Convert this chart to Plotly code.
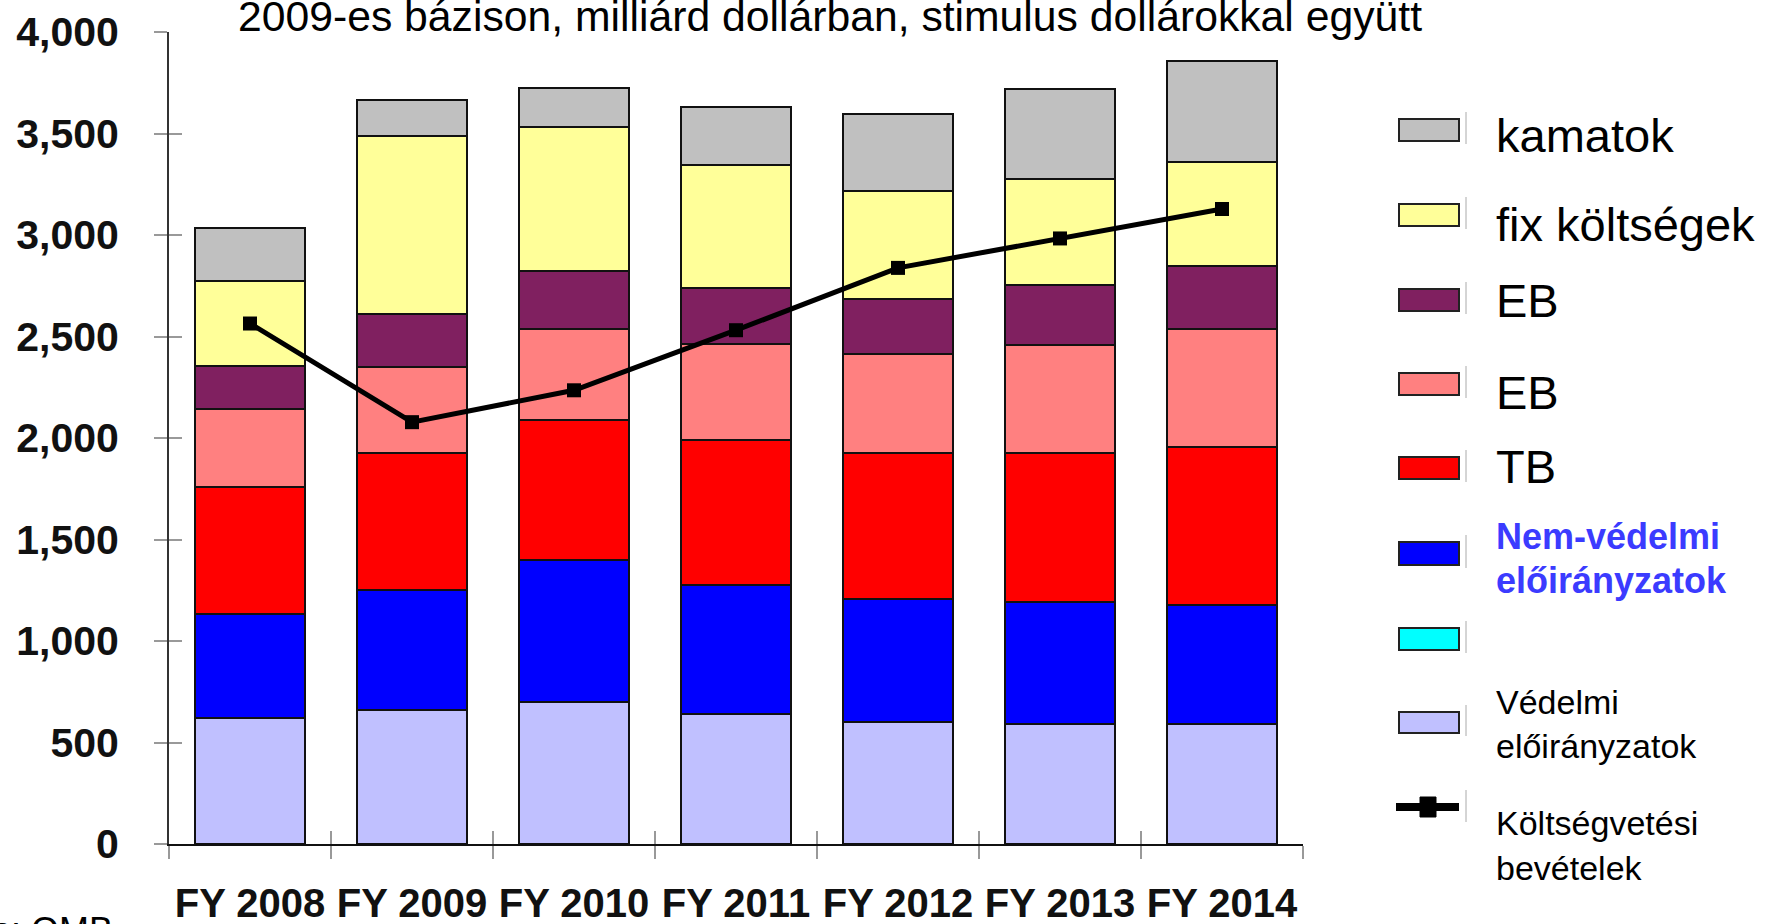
import plotly.graph_objects as go

years = ["FY 2008", "FY 2009", "FY 2010", "FY 2011", "FY 2012", "FY 2013", "FY 2014"]

# stacked components (billion $), bottom to top
vedelmi = [620, 659, 698, 642, 603, 592, 592]          # Védelmi előirányzatok
cyan_series = [None] * 7                               # empty series (cyan)
nem_vedelmi = [514, 592, 699, 632, 604, 598, 587]     # Nem-védelmi előirányzatok
tb = [626, 676, 692, 715, 720, 737, 776]               # TB
eb_pink = [385, 425, 447, 475, 486, 531, 581]          # EB (pink)
eb_purple = [212, 257, 285, 273, 274, 296, 313]        # EB (purple)
fix = [414, 877, 710, 609, 531, 520, 509]              # fix költségek
kamatok = [262, 179, 195, 285, 380, 447, 497]          # kamatok
bevetelek = [2564, 2078, 2235, 2531, 2838, 2983, 3128] # Költségvetési bevételek

y_ticks = [0, 500, 1000, 1500, 2000, 2500, 3000, 3500, 4000]

series = [
    ("Védelmi előirányzatok", vedelmi, "#C0C0FF"),
    ("", cyan_series, "#00FFFF"),
    ("Nem-védelmi előirányzatok", nem_vedelmi, "#0000FF"),
    ("TB", tb, "#FF0000"),
    ("EB", eb_pink, "#FF8080"),
    ("EB ", eb_purple, "#802060"),
    ("fix költségek", fix, "#FFFF99"),
    ("kamatok", kamatok, "#C0C0C0"),
]

FONT = "Liberation Sans, Arial, sans-serif"
W, H = 1775, 924
L, R, T, B = 169, 1303, 32, 844

def px(xp):
    return (xp - L) / (R - L)

def py(yp):
    return (B - yp) / (B - T)

fig = go.Figure()
for name, vals, col in series:
    fig.add_trace(go.Bar(
        x=years, y=vals, name=name,
        marker=dict(color=col, line=dict(color="#111111", width=2)),
        showlegend=False,
    ))

fig.add_trace(go.Scatter(
    x=years, y=bevetelek, mode="lines+markers", name="Költségvetési bevételek",
    line=dict(color="black", width=5),
    marker=dict(symbol="square", size=14, color="black"),
    showlegend=False,
))

fig.update_layout(
    width=W, height=H,
    margin=dict(l=L, r=W - R, t=T, b=H - B, autoexpand=False),
    barmode="stack", bargap=0.32,
    plot_bgcolor="white", paper_bgcolor="white",
    font=dict(family=FONT, color="black"),
    xaxis=dict(
        type="category", range=[-0.5, 6.5],
        showline=True, linecolor="#111111", linewidth=2,
        ticks="outside", tickson="boundaries", ticklen=13, tickcolor="#999999", tickwidth=2,
        tickangle=0, ticklabelstandoff=23,
        tickfont=dict(family=FONT, size=40, color="#111111", weight="bold"),
        showgrid=False, zeroline=False,
    ),
    xaxis2=dict(
        overlaying="x", range=[-0.5, 6.5], tickmode="array",
        tickvals=[-0.5, 0.5, 1.5, 2.5, 3.5, 4.5, 5.5, 6.5],
        ticks="inside", ticklen=13, tickcolor="#999999", tickwidth=2,
        showticklabels=False, showline=False, showgrid=False, zeroline=False,
    ),
    yaxis=dict(
        range=[0, 4000], tickmode="array", tickvals=y_ticks, tickformat=",",
        showline=True, linecolor="#333333", linewidth=2,
        ticks="outside", ticklen=13, tickcolor="#999999", tickwidth=2,
        ticklabelstandoff=27,
        tickfont=dict(family=FONT, size=41, color="#111111", weight="bold"),
        showgrid=False, zeroline=False,
    ),
    yaxis2=dict(
        overlaying="y", range=[0, 4000], tickmode="array", tickvals=y_ticks,
        ticks="inside", ticklen=13, tickcolor="#999999", tickwidth=2,
        showticklabels=False, showline=False, showgrid=False, zeroline=False,
    ),
)

# invisible trace to activate overlay axes
fig.add_trace(go.Scatter(x=[0], y=[0], xaxis="x2", yaxis="y2", mode="markers",
                         marker=dict(opacity=0), showlegend=False, hoverinfo="skip"))

annotations = []
shapes = []

# title (partly cut at top in reference)
annotations.append(dict(
    text="2009-es bázison, milliárd dollárban, stimulus dollárokkal együtt",
    xref="paper", yref="paper", x=px(236), y=py(16), xanchor="left", yanchor="middle",
    showarrow=False, font=dict(family=FONT, size=42.7, color="black"),
))

# source (cut at bottom)
annotations.append(dict(
    text="Forrás: OMB",
    xref="paper", yref="paper", x=px(115), y=py(930), xanchor="right", yanchor="middle",
    showarrow=False, font=dict(family=FONT, size=36, color="black"),
))

# legend swatches
legend_boxes = [
    ("#C0C0C0", 119, 141),
    ("#FFFF99", 204, 226),
    ("#802060", 289, 311),
    ("#FF8080", 373, 395),
    ("#FF0000", 457, 479),
    ("#0000FF", 542, 565),
    ("#00FFFF", 628, 650),
    ("#C0C0FF", 712, 733),
]
for col, y0, y1 in legend_boxes:
    shapes.append(dict(type="rect", xref="paper", yref="paper",
                       x0=px(1399), x1=px(1459), y0=py(y1), y1=py(y0),
                       fillcolor=col, line=dict(color="#222222", width=2)))
    shapes.append(dict(type="line", xref="paper", yref="paper",
                       x0=px(1466), x1=px(1466), y0=py(y1 + 3), y1=py(y0 - 7),
                       line=dict(color="#aaaaaa", width=1)))

# legend line symbol
shapes.append(dict(type="line", xref="paper", yref="paper",
                   x0=px(1396), x1=px(1459), y0=py(807), y1=py(807),
                   line=dict(color="black", width=8)))
shapes.append(dict(type="rect", xref="paper", yref="paper",
                   x0=px(1420), x1=px(1436), y0=py(817), y1=py(797),
                   fillcolor="black", line=dict(color="black", width=1)))
shapes.append(dict(type="line", xref="paper", yref="paper",
                   x0=px(1466), x1=px(1466), y0=py(822), y1=py(790),
                   line=dict(color="#aaaaaa", width=1)))

legend_texts = [
    ("kamatok", 135, 47, "normal", "black"),
    ("fix költségek", 225, 47, "normal", "black"),
    ("EB", 301, 47, "normal", "black"),
    ("EB", 392, 47, "normal", "black"),
    ("TB", 466, 47, "normal", "black"),
    ("Nem-védelmi", 536, 36, "bold", "#3B3BFF"),
    ("előirányzatok", 580, 36, "bold", "#3B3BFF"),
    ("Védelmi", 702, 34, "normal", "black"),
    ("előirányzatok", 746, 34, "normal", "black"),
    ("Költségvetési", 823, 34, "normal", "black"),
    ("bevételek", 868, 34, "normal", "black"),
]
for txt, yc, size, weight, col in legend_texts:
    annotations.append(dict(
        text=txt, xref="paper", yref="paper", x=px(1494), y=py(yc),
        xanchor="left", yanchor="middle", showarrow=False,
        font=dict(family=FONT, size=size, color=col, weight=weight),
    ))

fig.update_layout(annotations=annotations, shapes=shapes)

fig.write_html(
    "out.html",
    config={"displayModeBar": False},
    post_script="document.body.style.margin='0';document.body.style.overflow='hidden';",
)
